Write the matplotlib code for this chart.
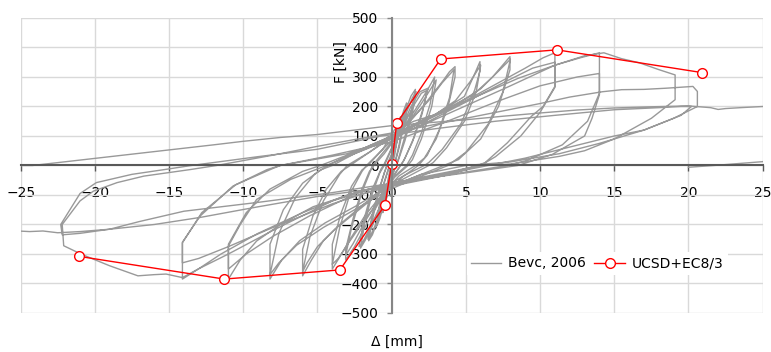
import matplotlib
matplotlib.use("Agg")
import matplotlib.pyplot as plt
import numpy as np

# ---------------- data ----------------
# Envelope "UCSD+EC8/3"
env_x = [-21.07, -11.28, -3.49, -0.45, 0.0, 0.34, 3.3, 11.14, 20.9]
env_f = [-308, -385, -354, -134, 5, 143, 361, 392, 315]

# Hysteresis "Bevc, 2006" -- path read cycle by cycle, [x (mm), F (kN)]
cyc_small = [
    [0, 0], [0.15, 60], [0.3, 110], [0.4, 135], [0.3, 95], [0.1, 30], [0.0, 0],
    [-0.15, -55], [-0.3, -100], [-0.42, -130], [-0.3, -90], [-0.1, -25], [0, 0],
    [0.2, 70], [0.45, 140], [0.6, 165], [0.45, 110], [0.2, 35], [0.05, 0],
    [-0.15, -50], [-0.4, -120], [-0.6, -160], [-0.45, -105], [-0.2, -35], [-0.05, 0],
    [0.2, 55], [0.5, 130], [0.8, 185], [1.0, 212], [0.8, 150], [0.5, 70], [0.25, 15], [0.1, 0],
    [-0.15, -45], [-0.5, -125], [-0.8, -180], [-1.0, -205], [-0.8, -140], [-0.5, -60], [-0.2, -10], [-0.1, 0],
    [0.25, 60], [0.6, 140], [0.9, 190], [1.05, 210], [0.85, 145], [0.5, 60], [0.2, 5], [0.12, 0],
    [-0.2, -50], [-0.6, -135], [-0.9, -185], [-1.05, -208], [-0.85, -140], [-0.5, -55], [-0.15, 0],
]
cyc_15 = [
    [-0.15, 0], [0.2, 50], [0.6, 130], [1.0, 195], [1.3, 235], [1.6, 258], [1.35, 190], [0.9, 100],
    [0.5, 30], [0.3, 0], [0.0, -40], [-0.5, -120], [-1.0, -195], [-1.3, -235], [-1.55, -255],
    [-1.3, -185], [-0.9, -95], [-0.5, -25], [-0.3, 0],
    [0.1, 45], [0.6, 120], [1.0, 180], [1.4, 230], [1.65, 250], [1.4, 180], [0.9, 85], [0.4, 10], [0.3, 0],
    [-0.1, -45], [-0.6, -125], [-1.0, -190], [-1.4, -235], [-1.6, -250], [-1.35, -175], [-0.85, -80], [-0.4, -10], [-0.35, 0],
]
cyc_2 = [
    [-0.35, 0], [0.1, 50], [0.7, 130], [1.3, 200], [1.9, 250], [2.45, 262], [2.1, 190], [1.5, 95],
    [0.9, 25], [0.6, 0], [0.0, -45], [-0.7, -130], [-1.3, -205], [-1.8, -255], [-2.1, -280],
    [-1.8, -190], [-1.3, -95], [-0.8, -25], [-0.5, 0],
    [0.0, 55], [0.8, 135], [1.5, 205], [2.0, 245], [2.4, 255], [2.05, 175], [1.4, 80], [0.8, 15], [0.6, 0],
    [-0.1, -50], [-0.8, -140], [-1.5, -215], [-2.0, -265], [-2.2, -275], [-1.85, -180], [-1.3, -80], [-0.7, -10], [-0.55, 0],
]
cyc_3 = [
    [-0.55, 0], [0.0, 60], [0.8, 130], [1.6, 190], [2.4, 255], [2.9, 300], [2.6, 210], [2.0, 110],
    [1.4, 35], [1.0, 0], [0.0, -45], [-0.8, -120], [-1.7, -200], [-2.5, -275], [-3.1, -320],
    [-3.1, -284], [-2.6, -180], [-2.0, -80], [-1.5, -20], [-1.2, 0],
    [-0.5, 40], [0.3, 95], [1.2, 150], [2.0, 210], [2.7, 265], [3.0, 290], [2.7, 200], [2.0, 90], [1.4, 20], [1.1, 0],
    [0.2, -40], [-0.8, -110], [-1.8, -190], [-2.6, -265], [-3.1, -305], [-2.7, -210], [-2.0, -90], [-1.4, -15], [-1.3, 0],
]
cyc_4 = [
    [-1.3, 0], [-0.4, 55], [0.5, 110], [1.5, 165], [2.5, 225], [3.5, 290], [3.9, 318], [4.27, 335],
    [4.27, 300], [3.8, 200], [3.0, 90], [2.2, 25], [1.6, 0], [0.5, -35], [-0.6, -95], [-1.8, -170],
    [-2.8, -250], [-3.5, -310], [-4.0, -351], [-4.0, -267], [-3.4, -160], [-2.7, -70], [-2.0, -15], [-1.6, 0],
    [-0.7, 50], [0.3, 100], [1.4, 160], [2.5, 220], [3.4, 280], [4.2, 325], [3.9, 230], [3.2, 120], [2.4, 35], [1.8, 0],
    [0.7, -40], [-0.5, -100], [-1.7, -175], [-2.8, -255], [-3.6, -315], [-4.0, -335], [-3.5, -210], [-2.8, -95], [-2.0, -20], [-1.7, 0],
]
cyc_6 = [
    [-1.7, 0], [-0.6, 55], [0.2, 122], [1.5, 150], [2.9, 172], [4.0, 205], [4.9, 234], [5.5, 300],
    [5.95, 352], [5.95, 320], [5.6, 257], [4.7, 144], [3.4, 54], [2.5, 10], [2.2, 0], [0.8, -35],
    [-0.5, -75], [-2.1, -140], [-3.5, -200], [-4.6, -255], [-5.4, -320], [-6.0, -374], [-6.0, -284],
    [-5.3, -170], [-4.4, -80], [-3.4, -20], [-2.8, 0],
    [-1.5, 45], [0.0, 100], [1.5, 140], [3.0, 175], [4.3, 220], [5.3, 285], [6.0, 340], [5.7, 250],
    [4.9, 150], [3.7, 60], [2.8, 10], [2.5, 0], [1.0, -40], [-0.5, -80], [-2.2, -150], [-3.8, -215],
    [-5.0, -275], [-5.7, -330], [-6.0, -360], [-5.5, -240], [-4.6, -120], [-3.5, -30], [-3.0, 0],
]
cyc_8 = [
    [-3.0, 0], [-1.5, 45], [0.0, 95], [2.0, 150], [4.0, 200], [5.5, 240], [6.8, 300], [7.97, 369],
    [7.97, 324], [7.2, 200], [6.0, 90], [4.5, 20], [3.5, 0], [1.5, -40], [-0.5, -80], [-2.5, -140],
    [-4.5, -195], [-6.2, -255], [-7.4, -320], [-8.2, -385], [-8.2, -267], [-7.3, -150], [-6.0, -60],
    [-4.8, -15], [-4.0, 0],
    [-2.5, 40], [0.0, 95], [2.2, 150], [4.3, 205], [6.0, 260], [7.2, 320], [8.0, 360], [7.5, 250],
    [6.5, 140], [5.0, 45], [3.8, 0], [1.8, -40], [-0.3, -85], [-2.5, -150], [-4.6, -210], [-6.4, -270],
    [-7.6, -330], [-8.2, -370], [-7.6, -230], [-6.5, -110], [-5.2, -30], [-4.3, 0],
]
cyc_11 = [
    [-4.3, 0], [-2.5, 45], [0.0, 100], [2.5, 160], [5.0, 220], [7.0, 275], [9.0, 330], [10.2, 365],
    [11.0, 382], [11.0, 268], [10.2, 200], [9.4, 166], [7.8, 77], [6.3, 10], [5.8, 0], [3.5, -30],
    [0.0, -60], [-2.1, -87], [-5.3, -140], [-7.5, -200], [-9.1, -256], [-10.2, -320], [-11.0, -385],
    [-11.0, -273], [-10.2, -200], [-9.1, -115], [-6.8, -47], [-4.4, 0],
    [-2.5, 40], [0.0, 90], [2.5, 150], [5.0, 215], [7.5, 280], [9.5, 330], [11.0, 350], [11.0, 265],
    [10.0, 180], [8.7, 100], [7.0, 30], [6.0, 0], [3.5, -35], [0.0, -70], [-3.0, -110], [-5.5, -170],
    [-8.0, -240], [-9.8, -300], [-11.0, -351], [-11.0, -267], [-9.8, -160], [-8.2, -80], [-6.0, -20], [-4.8, 0],
]
cyc_14 = [
    [-4.8, 0], [-2.5, 45], [0.0, 100], [3.0, 170], [6.0, 240], [8.5, 295], [11.0, 340], [12.7, 365],
    [14.0, 382], [14.0, 240], [13.5, 160], [13.0, 100], [10.8, 37], [8.5, 0], [5.0, -25], [0.0, -60],
    [-3.0, -100], [-6.0, -160], [-9.0, -230], [-11.5, -300], [-13.0, -350], [-14.1, -385],
    [-14.1, -260], [-12.9, -171], [-10.7, -70], [-8.4, -14], [-7.5, 0],
    [-4.0, 35], [0.0, 80], [3.5, 145], [7.0, 215], [10.0, 270], [12.5, 300], [14.0, 312], [14.0, 245],
    [13.2, 150], [11.5, 70], [9.0, 15], [7.8, 0], [4.0, -30], [0.0, -65], [-4.0, -130], [-8.0, -210],
    [-11.0, -275], [-13.0, -315], [-14.1, -330], [-14.1, -262], [-12.8, -160], [-10.5, -65], [-8.0, -10], [-7.5, 0],
]
cyc_19 = [
    [-7.5, 0], [-3.0, 40], [0.0, 90], [4.0, 180], [8.0, 270], [11.0, 340], [13.0, 372], [14.3, 382],
    [15.5, 362], [16.7, 348], [18.0, 325], [19.1, 307], [19.1, 223], [17.5, 160], [15.0, 90],
    [13.0, 50], [11.3, 31], [8.0, 5], [6.0, 0], [3.0, -30], [0.0, -60], [-4.0, -120], [-8.0, -220],
    [-11.0, -300], [-13.0, -350], [-14.1, -380], [-15.2, -368], [-16.0, -370], [-17.1, -374],
    [-19.0, -340], [-20.9, -301], [-22.1, -272], [-22.2, -200], [-21.0, -120], [-20.1, -87],
    [-18.5, -58], [-16.7, -36], [-13.6, -14], [-11.8, 0],
]
cyc_21 = [
    [-11.8, 0], [-8.0, 35], [-5.0, 65], [-2.5, 88], [0.0, 110], [2.5, 135], [5.0, 160], [7.5, 185],
    [10.0, 210], [12.0, 232], [14.2, 250], [15.5, 257], [17.0, 258], [18.5, 262], [20.3, 268],
    [20.6, 251], [20.6, 200], [19.0, 160], [17.0, 120], [15.0, 100], [13.0, 75], [11.3, 54],
    [9.0, 25], [6.5, 0], [3.0, -35], [0.0, -60], [-4.0, -92], [-9.0, -125], [-14.0, -155],
    [-17.0, -190], [-19.0, -216], [-21.0, -230], [-22.2, -235], [-22.3, -200], [-21.0, -95],
    [-19.9, -58], [-17.5, -30], [-15.2, -13], [-13.5, 0],
]
cyc_final = [
    [-13.5, 0], [-9.0, 30], [-5.0, 55], [-0.8, 99], [3.0, 125], [7.0, 150], [11.0, 170],
    [15.0, 189], [18.0, 196], [19.5, 200], [20.2, 200], [19.5, 170], [17.0, 120], [14.0, 75],
    [11.3, 40], [8.0, 12], [5.0, 0], [2.0, -30], [0.0, -70], [-5.0, -105], [-9.0, -140],
    [-12.9, -176], [-16.0, -200], [-19.0, -216], [-21.0, -224], [-22.5, -228], [-23.5, -222],
    [-24.4, -224], [-25.2, -222], [-26.5, -222], [-26.5, 0], [-24.2, 0],
    [-19.5, 27], [-14.8, 54], [-12.0, 70], [-10.0, 82], [-7.5, 95], [-5.0, 105], [-2.5, 120],
    [0.0, 135], [2.5, 145], [5.0, 155], [7.5, 167], [10.0, 178], [12.5, 188], [15.0, 195],
    [17.5, 199], [20.0, 202], [21.5, 196], [22.0, 190], [22.5, 193], [23.5, 196], [25.0, 200],
    [26.0, 200], [26.0, 40], [25.0, 13], [21.7, 0], [20.0, -6],
]

x_ticks = [-25, -20, -15, -10, -5, 0, 5, 10, 15, 20, 25]
y_ticks = [-500, -400, -300, -200, -100, 0, 100, 200, 300, 400, 500]

# ---------------- plot ----------------
plt.rcParams['font.family'] = ['DejaVu Sans']
fig = plt.figure(figsize=(7.71, 3.52), dpi=100)
ax = fig.add_axes([0.0268, 0.1108, 0.9624, 0.8381])

path = np.array(cyc_small + cyc_15 + cyc_2 + cyc_3 + cyc_4 + cyc_6 + cyc_8 +
                cyc_11 + cyc_14 + cyc_19 + cyc_21 + cyc_final)
ax.plot(path[:, 0], path[:, 1], color='#999999', lw=1.0, label='Bevc, 2006',
        zorder=3, clip_on=True)
ax.plot(env_x, env_f, color='#ff0000', lw=1.0, marker='o', ms=7,
        mfc='white', mec='#ff0000', mew=1.0, label='UCSD+EC8/3', zorder=4)

ax.set_xlim(-25, 25)
ax.set_ylim(-500, 500)
ax.set_xticks(x_ticks)
ax.set_yticks(y_ticks)
ax.grid(True, color='#d9d9d9', lw=1.0, zorder=0)
ax.set_axisbelow(True)

for s in ['top', 'right']:
    ax.spines[s].set_visible(False)
ax.spines['left'].set_position(('data', 0))
ax.spines['bottom'].set_position(('data', 0))
ax.spines['left'].set_color('#868686')
ax.spines['left'].set_linewidth(1.5)
ax.spines['bottom'].set_color('#595959')
ax.spines['bottom'].set_linewidth(1.5)
ax.spines['left'].set_zorder(5)
ax.spines['bottom'].set_zorder(5)

ax.tick_params(axis='x', direction='out', length=4.5, width=1, color='#595959',
               labelsize=10, pad=10, labelcolor='#000000')
ax.tick_params(axis='y', direction='out', length=3.5, width=1, color='#868686',
               labelsize=10, pad=6, labelcolor='#000000')

fig.text(341 / 771, 1 - 62 / 352, 'F [kN]', rotation=90, ha='center', va='center', fontsize=10)
fig.text(397 / 771, 1 - 342 / 352, 'Δ [mm]', ha='center', va='center', fontsize=10)

leg = ax.legend(loc='center', bbox_to_anchor=(0.777, 0.168), ncol=2, frameon=True,
                fancybox=False, edgecolor='none', facecolor='white', framealpha=1.0,
                fontsize=10, handlelength=2.2, columnspacing=0.6, handletextpad=0.5,
                borderpad=0.3)
leg.set_zorder(6)

fig.savefig('out.png', dpi=100)
